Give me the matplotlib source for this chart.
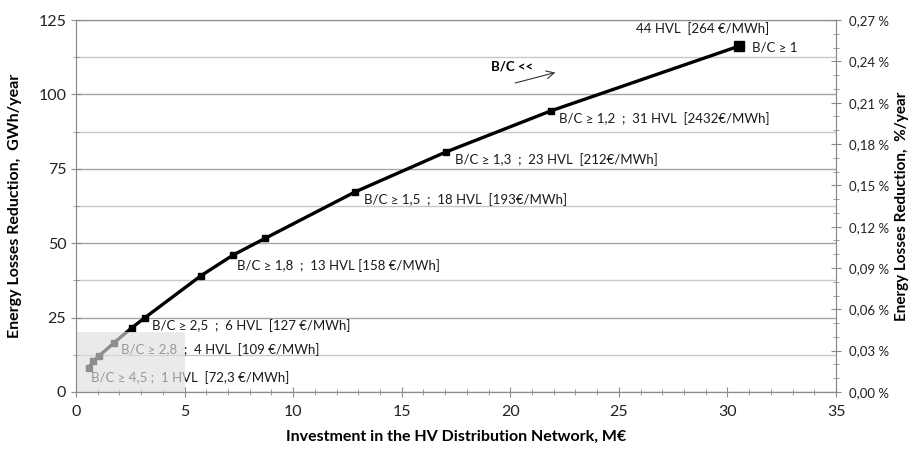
import matplotlib
matplotlib.use("Agg")
import matplotlib.pyplot as plt
from matplotlib.ticker import MultipleLocator, FuncFormatter
from matplotlib.patches import Rectangle

plt.rcParams['font.family'] = ['Lato', 'DejaVu Sans']

investment = [0.60, 0.78, 1.06, 1.76, 2.56, 3.16, 5.76, 7.23, 8.70, 12.87, 17.05, 21.88, 30.52]
reduction = [8.1, 10.4, 12.1, 16.6, 21.5, 24.9, 39.1, 46.0, 51.6, 67.3, 80.7, 94.5, 116.2]

labels = [
    (0.70, 5.0, "B/C \u2265 4,5 ;  1 HVL  [72,3 \u20ac/MWh]"),
    (2.05, 14.4, "B/C \u2265 2,8  ;  4 HVL  [109 \u20ac/MWh]"),
    (3.50, 22.2, "B/C \u2265 2,5  ;  6 HVL  [127 \u20ac/MWh]"),
    (7.40, 42.5, "B/C \u2265 1,8  ;  13 HVL [158 \u20ac/MWh]"),
    (13.25, 64.5, "B/C \u2265 1,5  ;  18 HVL  [193\u20ac/MWh]"),
    (17.45, 78.0, "B/C \u2265 1,3  ;  23 HVL  [212\u20ac/MWh]"),
    (22.25, 91.8, "B/C \u2265 1,2  ;  31 HVL  [2432\u20ac/MWh]"),
    (31.15, 115.8, "B/C \u2265 1"),
    (25.80, 122.0, "44 HVL  [264 \u20ac/MWh]"),
]

fig = plt.figure(figsize=(9.18, 4.55), dpi=100)
ax = fig.add_axes([0.0828, 0.1385, 0.8279, 0.8175])
ax.set_xlim(0, 35)
ax.set_ylim(0, 125)

gc = '#8c8c8c'
ax.xaxis.set_major_locator(MultipleLocator(5))
ax.xaxis.set_minor_locator(MultipleLocator(1))
ax.yaxis.set_major_locator(MultipleLocator(25))
ax.yaxis.set_minor_locator(MultipleLocator(12.5))
ax.grid(True, which='major', axis='y', color='#a6a6a6', lw=1.0, zorder=0)
ax.grid(True, which='minor', axis='y', color='#c8c8c8', lw=1.0, zorder=0)
ax.tick_params(which='both', direction='inout', color=gc, labelsize=11.5, labelcolor='#222222')
ax.tick_params(which='major', length=7)
ax.tick_params(which='minor', length=5)
ax.tick_params(axis='x', pad=6)
for s in ax.spines.values():
    s.set_color(gc)

ax.plot(investment[:-1], reduction[:-1], color='black', lw=2.4, marker='s', ms=5, zorder=3)
ax.plot(investment[-2:], reduction[-2:], color='black', lw=2.4, zorder=3)
ax.plot(investment[-1:], reduction[-1:], color='black', marker='s', ms=7, zorder=3)

for x, y, t in labels:
    ax.text(x, y, t, fontsize=9.5, color='#1a1a1a', va='center', ha='left', zorder=4)

ax.text(20.1, 109.4, "B/C <<", fontsize=9.5, fontweight='bold', ha='center', va='center', zorder=4)
ax.annotate("", xy=(22.2, 107.6), xytext=(20.1, 103.6),
            arrowprops=dict(arrowstyle='->', color='#333333', lw=0.8, mutation_scale=14), zorder=4)

ax.add_patch(Rectangle((0, 0), 5, 20, facecolor=(0.875, 0.875, 0.875), alpha=0.64,
                       edgecolor='none', zorder=5))

ax.set_xlabel("Investment in the HV Distribution Network, M\u20ac", fontsize=11.5,
              fontweight='bold', labelpad=8)
ax.set_ylabel("Energy Losses Reduction,  GWh/year", fontsize=11.5, fontweight='bold', labelpad=12)

ax2 = ax.twinx()
ax2.set_ylim(0, 0.27)
ax2.yaxis.set_major_locator(MultipleLocator(0.03))
ax2.yaxis.set_minor_locator(MultipleLocator(0.01))
ax2.yaxis.set_major_formatter(FuncFormatter(lambda v, p: ("%.2f %%" % v).replace('.', ',')))
ax2.tick_params(which='both', direction='inout', color=gc, labelsize=9.5, labelcolor='#222222')
ax2.tick_params(which='major', length=7, pad=6)
ax2.tick_params(which='minor', length=5)
for s in ax2.spines.values():
    s.set_color(gc)
ax2.set_ylabel("Energy Losses Reduction,  %/year", fontsize=11, fontweight='bold', labelpad=4)

fig.savefig("out.png", dpi=100)
